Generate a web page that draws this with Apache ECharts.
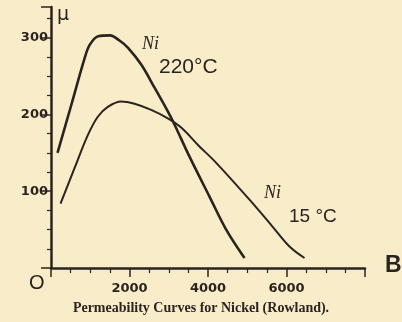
<!DOCTYPE html>
<html><head><meta charset="utf-8">
<script src="https://cdn.jsdelivr.net/npm/echarts@6/dist/echarts.min.js"></script>
<style>html,body{margin:0;padding:0;background:#f9edc9;}#c{width:402px;height:322px;}</style>
</head><body><div id="c"></div>
<script>
// Field strength B (x) vs permeability mu (y)
var ni220 = [[166,150],[515,212],[861,274],[989,291],[1203,302],[1498,303],[1753,296],[1957,287],[2298,265],[2637,235],[2976,204],[3146,187],[3529,145],[4038,93],[4463,50],[4930,13]];
var ni15 = [[242,84],[599,130],[938,173],[1192,197],[1447,210],[1788,217],[2127,214],[2553,206],[2976,195],[3317,183],[3750,160],[4209,137],[5057,89],[5643,54],[6076,28],[6459,13]];
var xTicks = [2000, 4000, 6000];
var yTicks = [100, 200, 300];
var title = 'Permeability Curves for Nickel (Rowland).';
var ink = '#2a2420';
var chart = echarts.init(document.getElementById('c'));
chart.setOption({
  backgroundColor: '#f9edc9',
  animation: false,
  grid: {left: 51, right: 37, top: 7, bottom: 54},
  xAxis: {
    type: 'value', min: 0, max: 8000, interval: 2000,
    axisLine: {show: true, lineStyle: {color: ink, width: 2.5}},
    axisTick: {show: true, length: 9, lineStyle: {color: ink, width: 1.5}},
    minorTick: {show: true, splitNumber: 4, length: 5, lineStyle: {color: ink, width: 1.2}},
    splitLine: {show: false},
    axisLabel: {margin: 14, color: ink, fontFamily: 'DejaVu Sans', fontWeight: 'bold', fontSize: 13,
      formatter: function(v){ return xTicks.indexOf(v) >= 0 ? String(v) : ''; }}
  },
  yAxis: {
    type: 'value', min: 0, max: 340, interval: 100,
    axisLine: {show: true, lineStyle: {color: ink, width: 2.5}},
    axisTick: {show: true, length: 10, lineStyle: {color: ink, width: 1.5}},
    minorTick: {show: true, splitNumber: 4, length: 4, lineStyle: {color: ink, width: 1.2}},
    splitLine: {show: false},
    axisLabel: {margin: 3, color: ink, fontFamily: 'DejaVu Sans', fontWeight: 'bold', fontSize: 13,
      formatter: function(v){ return yTicks.indexOf(v) >= 0 ? String(v) : ''; }}
  },
  series: [
    {type: 'line', data: ni220, smooth: 0.35, symbol: 'none', lineStyle: {color: ink, width: 2.6}},
    {type: 'line', data: ni15, smooth: 0.35, symbol: 'none', lineStyle: {color: ink, width: 2}}
  ],
  graphic: [
    {type: 'text', left: 57, top: 6, style: {text: 'μ', fontSize: 19, fontFamily: 'DejaVu Sans', fill: ink}},
    {type: 'text', left: 385, top: 254, style: {text: 'B', fontSize: 23, fontWeight: 'bold', fontFamily: 'Liberation Sans', fill: ink}},
    {type: 'text', left: 29, top: 273, style: {text: 'O', fontSize: 20, fontFamily: 'Liberation Sans', fill: ink}},
    {type: 'text', left: 142, top: 35, style: {text: 'Ni', fontSize: 18, fontStyle: 'italic', fontFamily: 'Liberation Serif', fill: ink}},
    {type: 'text', left: 159, top: 57, style: {text: '220°C', fontSize: 21, fontFamily: 'Liberation Sans', fill: ink}},
    {type: 'text', left: 264, top: 184, style: {text: 'Ni', fontSize: 18, fontStyle: 'italic', fontFamily: 'Liberation Serif', fill: ink}},
    {type: 'text', left: 289, top: 207, style: {text: '15 °C', fontSize: 19, fontFamily: 'Liberation Sans', fill: ink}},
    {type: 'text', left: 'center', top: 301, style: {text: title, fontSize: 14, fontWeight: 'bold', fontFamily: 'Liberation Serif', fill: ink}}
  ]
});
</script></body></html>
